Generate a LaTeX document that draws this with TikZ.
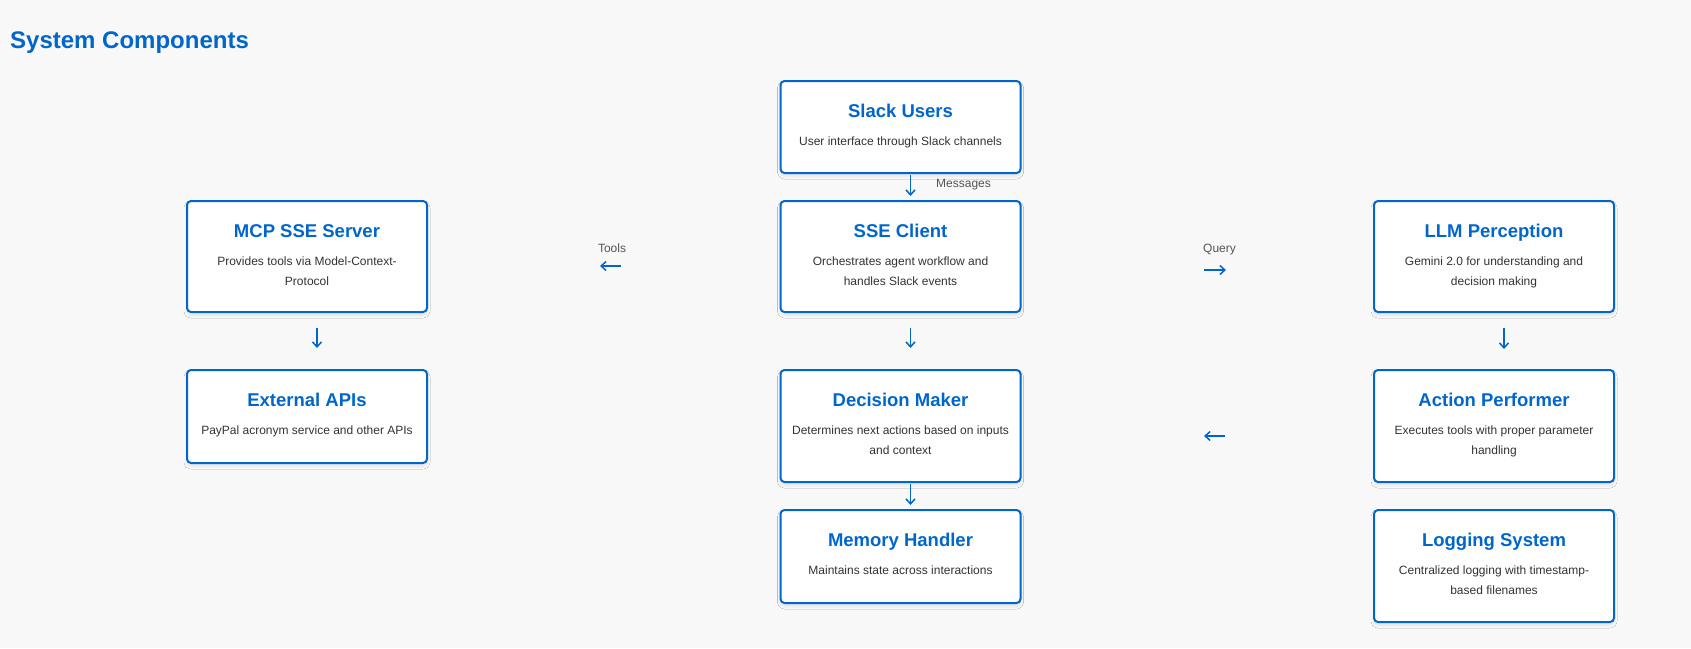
\documentclass[tikz,border=0pt]{standalone}
\usepackage{fontspec}
\setmainfont{Liberation Sans}
\usetikzlibrary{arrows.meta,shadows.blur}
\definecolor{accent}{HTML}{0066CC}
\definecolor{pagebg}{HTML}{F8F8F8}
\definecolor{desctext}{HTML}{333333}
\definecolor{labeltext}{HTML}{555555}
\begin{document}
\begin{tikzpicture}[x=1pt,y=-1pt,
  box/.style={draw=accent, line width=2pt, fill=white, rounded corners=4pt,
    minimum width=240pt, inner sep=0pt,
    blur shadow={shadow xshift=0pt, shadow yshift=-3pt, shadow opacity=9, shadow blur radius=3pt, shadow blur steps=8}},
  ttl/.style={anchor=base, inner sep=0pt, text=accent, font=\fontsize{18.5}{22}\selectfont\bfseries},
  dsc/.style={anchor=north, inner sep=0pt, align=center, text=desctext, font=\fontsize{12}{20}\selectfont},
  lbl/.style={anchor=base, inner sep=0pt, text=labeltext, font=\fontsize{12}{14}\selectfont},
  arr/.style={draw=accent, line width=1.5pt, -{Straight Barb[length=5pt,width=9pt,line width=1.5pt]}}
]
\fill[pagebg] (0,0) rectangle (1691,648);
\useasboundingbox (0,0) rectangle (1691,648);

\node[anchor=base west, inner sep=0pt, text=accent, font=\fontsize{24}{28}\selectfont\bfseries] (heading) at (10,48) {System Components};

% boxes
\node[box, minimum height=92pt]  (slack) at (900.5,127)   {};
\node[box, minimum height=111pt] (mcp)   at (307,256.5)   {};
\node[box, minimum height=111pt] (sse)   at (900.5,256.5) {};
\node[box, minimum height=111pt] (llm)   at (1494,256.5)  {};
\node[box, minimum height=93pt]  (ext)   at (307,416.5)   {};
\node[box, minimum height=112pt] (dec)   at (900.5,426)   {};
\node[box, minimum height=112pt] (act)   at (1494,426)    {};
\node[box, minimum height=93pt]  (mem)   at (900.5,556.5) {};
\node[box, minimum height=112pt] (log)   at (1494,566)    {};

% titles and descriptions
\node[ttl] (slackT) at (900.5,117.5) {Slack Users};
\node[dsc] (slackD) at (900.5,137) {User interface through Slack channels};
\node[ttl] (mcpT) at (307,237.5) {MCP SSE Server};
\node[dsc] (mcpD) at (307,257) {Provides tools via Model-Context-\\Protocol};
\node[ttl] (sseT) at (900.5,237.5) {SSE Client};
\node[dsc] (sseD) at (900.5,257) {Orchestrates agent workflow and\\handles Slack events};
\node[ttl] (llmT) at (1494,237.5) {LLM Perception};
\node[dsc] (llmD) at (1494,257) {Gemini 2.0 for understanding and\\decision making};
\node[ttl] (extT) at (307,406.5) {External APIs};
\node[dsc] (extD) at (307,426) {PayPal acronym service and other APIs};
\node[ttl] (decT) at (900.5,406.5) {Decision Maker};
\node[dsc] (decD) at (900.5,426) {Determines next actions based on inputs\\and context};
\node[ttl] (actT) at (1494,406.5) {Action Performer};
\node[dsc] (actD) at (1494,426) {Executes tools with proper parameter\\handling};
\node[ttl] (memT) at (900.5,546.5) {Memory Handler};
\node[dsc] (memD) at (900.5,566) {Maintains state across interactions};
\node[ttl] (logT) at (1494,546.5) {Logging System};
\node[dsc] (logD) at (1494,566) {Centralized logging with timestamp-\\based filenames};

% labels
\node[lbl] (msgL) at (963.5,187) {Messages};
\node[lbl] (toolsL) at (612,252) {Tools};
\node[lbl] (queryL) at (1219.5,252) {Query};

% connectors
\draw[arr, shorten <=1pt, shorten >=4pt] ([xshift=10pt]slack.south) -- ([xshift=10pt]sse.north);
\draw[arr, shorten <=15pt, shorten >=21pt] ([xshift=10pt]sse.south) -- ([xshift=10pt]dec.north);
\draw[arr, shorten <=15pt, shorten >=21pt] ([xshift=10pt]mcp.south) -- ([xshift=10pt]ext.north);
\draw[arr, shorten <=15pt, shorten >=20pt] ([xshift=10pt]llm.south) -- ([xshift=10pt]act.north);
\draw[arr, shorten <=1pt, shorten >=4pt] ([xshift=10pt]dec.south) -- ([xshift=10pt]mem.north);
\draw[arr, shorten <=159pt, shorten >=172pt] ([yshift=-9.5pt]sse.west) -- ([yshift=-9.5pt]mcp.east);
\draw[arr, shorten <=182.5pt, shorten >=147pt] ([yshift=-13.5pt]sse.east) -- ([yshift=-13.5pt]llm.west);
\draw[arr, shorten <=148pt, shorten >=182.5pt] ([yshift=-10pt]act.west) -- ([yshift=-10pt]dec.east);
\end{tikzpicture}
\end{document}
